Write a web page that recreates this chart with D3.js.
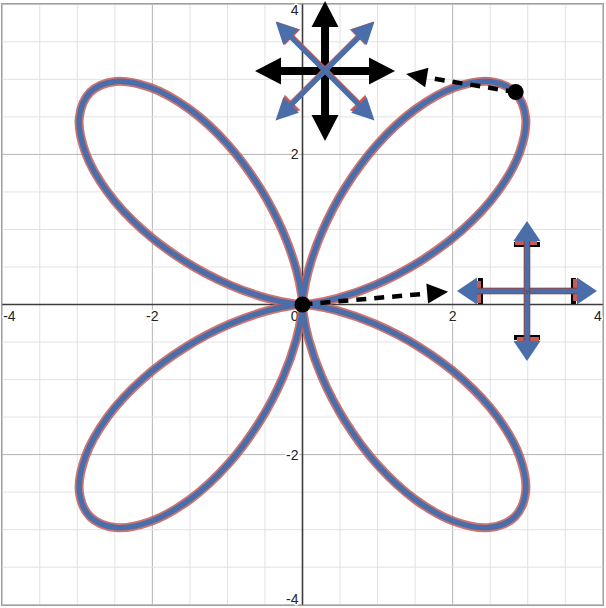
<!DOCTYPE html>
<html>
<head>
<meta charset="utf-8">
<script src="https://cdn.jsdelivr.net/npm/d3@7"></script>
<style>
  html, body { margin: 0; padding: 0; background: #fff; }
  svg { display: block; }
  text { font-family: "Liberation Sans", Arial, sans-serif; }
</style>
</head>
<body>
<svg id="chart" width="606" height="608"></svg>
<script>
// ---------- data ----------
// one petal of the curve, read in polar form (angle in degrees, radius in units)
const petalAngles = [0, 5, 10, 15, 20, 25, 30, 35, 40, 45, 50, 55, 60, 65, 70, 75, 80, 85, 90];
const petalRadii  = [0, 0.12, 0.47, 1.0, 1.65, 2.35, 3.0, 3.53, 3.88, 4.0, 3.88, 3.53, 3.0, 2.35, 1.65, 1.0, 0.47, 0.12, 0];
// the petal is repeated in the four quadrants
const petalQuadrants = [0, 90, 180, 270];

// axis ticks
const xTickValues = [-4, -2, 0, 2, 4];
const xTickLabels = ["-4", "-2", "0", "2", "4"];
const yTickValues = [-4, -2, 2, 4];
const yTickLabels = ["-4", "-2", "2", "4"];

// marked points on the curve
const markedPointsX = [0, 2.84];
const markedPointsY = [0, 2.83];
// dashed pointer tips (data units), one per marked point
const pointerTipX = [1.94, 1.38];
const pointerTipY = [0.17, 3.07];
// glyph centres (data units)
const glyphNames = ["four-way", "eight-way"];
const glyphX = [2.99, 0.30];
const glyphY = [0.18, 3.11];

// ---------- setup ----------
const W = 606, H = 608;
const svg = d3.select("#chart");
const x = d3.scaleLinear().domain([-4, 4]).range([2.2, 602.8]);
const y = d3.scaleLinear().domain([-4, 4]).range([604.7, 4.3]);

const BLUE = "#4a6ea9", RED = "#c65b57", DARKRED = "#8a3b3b";

// ---------- grid ----------
const grid = svg.append("g");
const minor = d3.range(-8, 9).map(d => d / 2);
grid.selectAll("line.vx").data(minor).join("line")
  .attr("x1", d => x(d)).attr("x2", d => x(d)).attr("y1", y(-4)).attr("y2", y(4))
  .attr("stroke", d => (d % 2 === 0 ? "#b4b4b4" : "#e2e2e2")).attr("stroke-width", 1);
grid.selectAll("line.hy").data(minor).join("line")
  .attr("y1", d => y(d)).attr("y2", d => y(d)).attr("x1", x(-4)).attr("x2", x(4))
  .attr("stroke", d => (d % 2 === 0 ? "#b4b4b4" : "#e2e2e2")).attr("stroke-width", 1);
// frame
svg.append("rect").attr("x", 1.5).attr("y", 3.5).attr("width", 602).attr("height", 602)
  .attr("fill", "none").attr("stroke", "#a0a0a0").attr("stroke-width", 1);

// axes
svg.append("line").attr("x1", x(-4)).attr("x2", x(4)).attr("y1", y(0)).attr("y2", y(0))
  .attr("stroke", "#3c3c3c").attr("stroke-width", 1.6);
svg.append("line").attr("x1", x(0)).attr("x2", x(0)).attr("y1", y(-4)).attr("y2", y(4))
  .attr("stroke", "#3c3c3c").attr("stroke-width", 1.6);

// tick labels (edge labels nudged inward so they stay visible)
const labels = svg.append("g").attr("font-size", 14).attr("fill", "#222")
  .attr("stroke", "#fff").attr("stroke-width", 3).attr("paint-order", "stroke").attr("stroke-linejoin", "round");
labels.selectAll("text.xl").data(xTickValues).join("text")
  .attr("x", d => d === 0 ? x(0) - 4 : d === -4 ? x(d) + 1 : d === 4 ? x(d) - 1 : x(d))
  .attr("y", y(0) + 16)
  .attr("text-anchor", d => d === 0 ? "end" : d === -4 ? "start" : d === 4 ? "end" : "middle")
  .text((d, i) => xTickLabels[i]);
labels.selectAll("text.yl").data(yTickValues).join("text")
  .attr("x", x(0) - 4)
  .attr("y", d => d === 4 ? y(d) + 11 : d === -4 ? y(d) - 1 : y(d) + 5)
  .attr("text-anchor", "end")
  .text((d, i) => yTickLabels[i]);

// ---------- curve ----------
const petalPts = q => petalAngles.map((a, i) => {
  const t = (a + q) * Math.PI / 180;
  return [petalRadii[i] * Math.cos(t), petalRadii[i] * Math.sin(t)];
});
const line = d3.line().x(d => x(d[0])).y(d => y(d[1])).curve(d3.curveCatmullRom.alpha(0.5));
const curve = svg.append("g").attr("fill", "none").attr("stroke-linecap", "round").attr("stroke-linejoin", "round");
curve.selectAll("path.r").data(petalQuadrants).join("path")
  .attr("d", q => line(petalPts(q))).attr("stroke", RED).attr("stroke-width", 9).attr("stroke-opacity", 0.85);
curve.selectAll("path.b").data(petalQuadrants).join("path")
  .attr("d", q => line(petalPts(q))).attr("stroke", BLUE).attr("stroke-width", 5.5);

// ---------- dashed pointers ----------
const pointers = svg.append("g");
markedPointsX.forEach((mx, i) => {
  const x0 = x(mx), y0 = y(markedPointsY[i]);
  const x1 = x(pointerTipX[i]), y1 = y(pointerTipY[i]);
  const ang = Math.atan2(y1 - y0, x1 - x0);
  const hl = 21, hw = 20;
  const bx = x1 - hl * Math.cos(ang), by = y1 - hl * Math.sin(ang);
  pointers.append("line").attr("x1", x0).attr("y1", y0).attr("x2", bx).attr("y2", by)
    .attr("stroke", "#000").attr("stroke-width", 4.5).attr("stroke-dasharray", "10,8");
  const deg = ang * 180 / Math.PI;
  pointers.append("path")
    .attr("d", `M0,0 L${-hl},${-hw / 2} L${-hl},${hw / 2} Z`)
    .attr("transform", `translate(${x1},${y1}) rotate(${deg})`)
    .attr("fill", "#000");
});
// marked points
svg.selectAll("circle.m").data(markedPointsX).join("circle")
  .attr("cx", d => x(d)).attr("cy", (d, i) => y(markedPointsY[i])).attr("r", 8).attr("fill", "#000");

// ---------- glyphs ----------
function arrowD(len, sw, hw, hl, start) {
  const b = len - hl;
  return `M${start},${-sw / 2} L${b},${-sw / 2} L${b},${-hw / 2} L${len},0 L${b},${hw / 2} L${b},${sw / 2} L${start},${sw / 2} Z`;
}
glyphNames.forEach((name, gi) => {
  const g = svg.append("g").attr("transform", `translate(${x(glyphX[gi])},${y(glyphY[gi])})`);
  if (name === "eight-way") {
    [0, 90, 180, 270].forEach(a => {
      g.append("path").attr("d", arrowD(70, 8, 27, 26, 0)).attr("transform", `rotate(${a})`).attr("fill", "#000");
    });
    [45, 135, 225, 315].forEach(a => {
      g.append("path").attr("d", arrowD(68, 5.6, 22, 22, 0))
        .attr("transform", `translate(0,-1.2) rotate(${a})`).attr("fill", RED);
    });
    [45, 135, 225, 315].forEach(a => {
      g.append("path").attr("d", arrowD(70, 5, 22, 22, 0)).attr("transform", `rotate(${a})`).attr("fill", BLUE);
    });
  } else {
    [0, 90, 180, 270].forEach(a => {
      const r = g.append("g").attr("transform", `rotate(${a})`);
      r.append("rect").attr("x", 44).attr("y", -13).attr("width", 5).attr("height", 26).attr("fill", "#000");
      r.append("rect").attr("x", 46).attr("y", -12).attr("width", 4).attr("height", 22).attr("fill", RED);
    });
    [0, 90, 180, 270].forEach(a => {
      g.append("rect").attr("x", 0).attr("y", -2.8).attr("width", 51).attr("height", 5.6)
        .attr("transform", `rotate(${a})`).attr("fill", BLUE).attr("stroke", DARKRED).attr("stroke-width", 1);
    });
    [0, 90, 180, 270].forEach(a => {
      g.append("path").attr("d", `M50,-13.5 L70,0 L50,13.5 Z`).attr("transform", `rotate(${a})`).attr("fill", BLUE);
    });
  }
});
</script>
</body>
</html>
